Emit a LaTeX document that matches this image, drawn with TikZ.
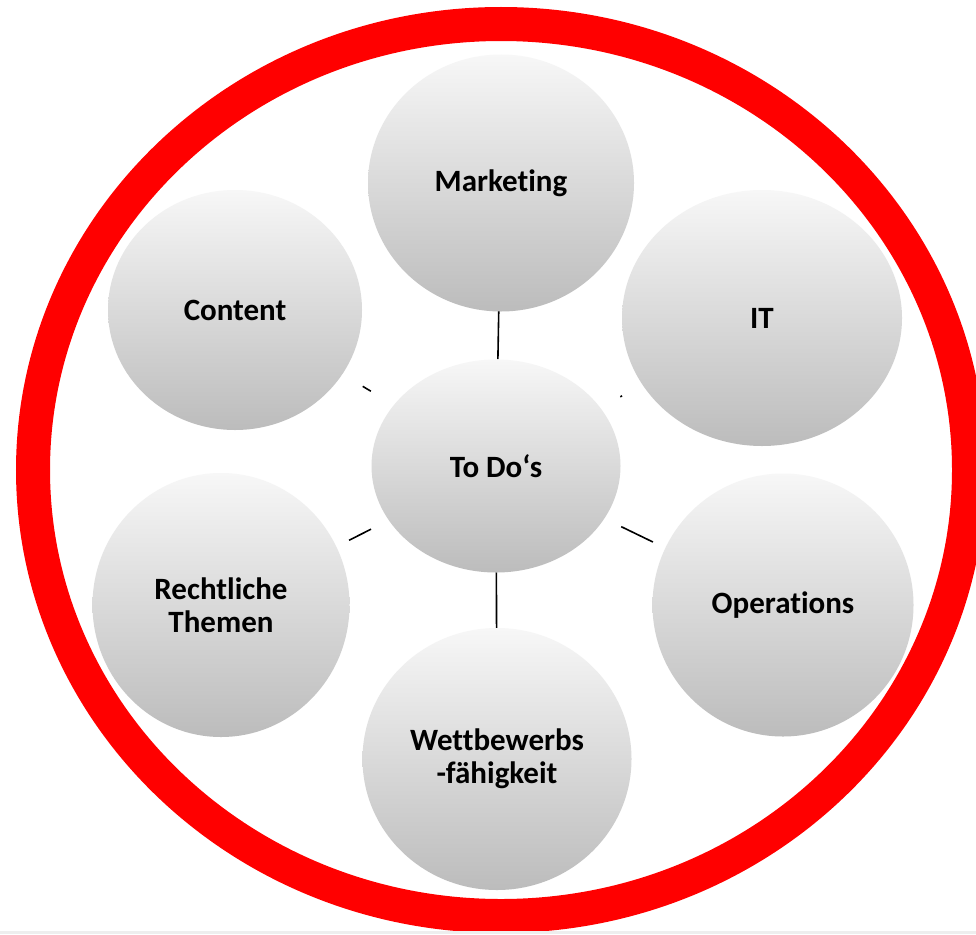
\documentclass[tikz,border=0pt]{standalone}
\usepackage{fontspec}
\setmainfont{Carlito}[Ligatures={NoCommon}]
\usetikzlibrary{shapes.geometric,backgrounds}
\definecolor{ringred}{RGB}{255,0,0}
\definecolor{topgray}{RGB}{247,247,247}
\definecolor{botgray}{RGB}{188,188,188}
\definecolor{stripgray}{RGB}{238,238,238}
\tikzset{
  bubble/.style={ellipse, inner sep=0pt, top color=topgray, bottom color=botgray,
    draw=none, align=center, font=\fontsize{31}{33}\selectfont\bfseries},
  link/.style={draw=black, line width=1.6pt}
}
\begin{document}
\begin{tikzpicture}[x=1pt,y=-1pt]
\useasboundingbox (0,0) rectangle (976,934);
\draw[ringred, line width=34pt] (501,470) ellipse [x radius=468, y radius=446];
\node[bubble, minimum width=266pt, minimum height=257pt] (mkt) at (501,183) {Marketing};
\node[bubble, minimum width=254pt, minimum height=240pt] (content) at (235,310) {Content};
\node[bubble, minimum width=280pt, minimum height=256pt] (it) at (762,318) {IT};
\node[bubble, minimum width=249pt, minimum height=213pt] (todo) at (496,466) {To Do‘s};
\node[bubble, minimum width=257pt, minimum height=264pt] (recht) at (221,605) {Rechtliche\\Themen};
\node[bubble, minimum width=261pt, minimum height=263pt] (ops) at (783,605) {Operations};
\node[bubble, minimum width=269pt, minimum height=262pt] (wett) at (497,759) {Wettbewerbs\\-fähigkeit};
\begin{scope}[on background layer]
\fill[white] (0,0) rectangle (976,934);
\draw[link, shorten <=107pt, shorten >=128pt] (todo.center) -- (mkt.center);
\draw[link, shorten <=145.8pt, shorten >=148.8pt] (todo.center) -- (content.center);
\draw[link, shorten <=142.3pt, shorten >=160.1pt] (todo.center) -- (it.center);
\draw[link, shorten <=140pt, shorten >=143.5pt] (todo.center) -- (recht.center);
\draw[link, shorten <=139.1pt, shorten >=144.5pt] (todo.center) -- (ops.center);
\draw[link, shorten <=105pt, shorten >=130pt] (todo.center) -- (wett.center);
\end{scope}
\fill[stripgray] (0,931) rectangle (976,934);
\end{tikzpicture}
\end{document}
